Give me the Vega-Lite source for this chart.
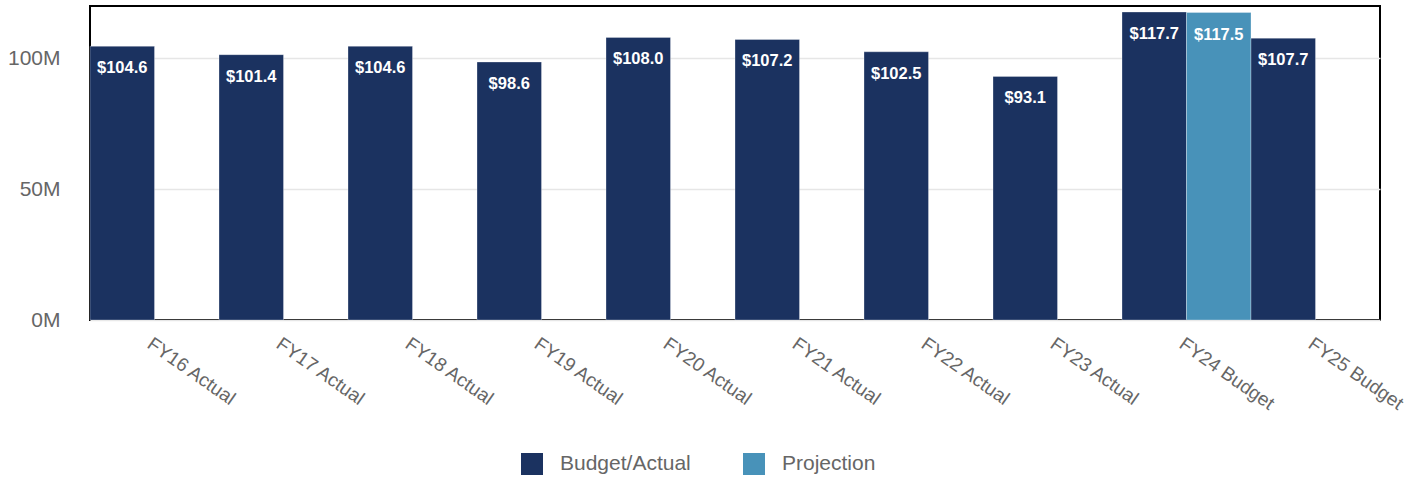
{
  "$schema": "https://vega.github.io/schema/vega-lite/v6.json",
  "width": 1290,
  "height": 314,
  "autosize": {"type": "none"},
  "padding": {"left": 90, "top": 6, "right": 38, "bottom": 159},
  "background": "#ffffff",
  "config": {
    "view": {"stroke": "#000000", "strokeWidth": 2},
    "font": "Liberation Sans"
  },
  "data": {
    "values": [
      {"year": "FY16 Actual", "series": "Budget/Actual", "value": 104.6},
      {"year": "FY17 Actual", "series": "Budget/Actual", "value": 101.4},
      {"year": "FY18 Actual", "series": "Budget/Actual", "value": 104.6},
      {"year": "FY19 Actual", "series": "Budget/Actual", "value": 98.6},
      {"year": "FY20 Actual", "series": "Budget/Actual", "value": 108.0},
      {"year": "FY21 Actual", "series": "Budget/Actual", "value": 107.2},
      {"year": "FY22 Actual", "series": "Budget/Actual", "value": 102.5},
      {"year": "FY23 Actual", "series": "Budget/Actual", "value": 93.1},
      {"year": "FY24 Budget", "series": "Budget/Actual", "value": 117.7},
      {"year": "FY24 Budget", "series": "Projection", "value": 117.5},
      {"year": "FY25 Budget", "series": "Budget/Actual", "value": 107.7}
    ]
  },
  "encoding": {
    "x": {
      "field": "year",
      "type": "nominal",
      "sort": null,
      "scale": {"paddingInner": 0, "paddingOuter": 0},
      "axis": {
        "title": null,
        "labelAngle": 35,
        "labelAlign": "left",
        "labelBaseline": "top",
        "labelFontSize": 19,
        "labelColor": "#666666",
        "labelPadding": 14,
        "labelDx": 4,
        "ticks": false,
        "domain": false,
        "grid": false
      }
    },
    "xOffset": {
      "field": "series",
      "type": "nominal",
      "scale": {"domain": ["Budget/Actual", "Projection"], "paddingInner": 0, "paddingOuter": 0}
    },
    "y": {
      "field": "value",
      "type": "quantitative",
      "scale": {"domain": [0, 120], "nice": false},
      "axis": {
        "title": null,
        "values": [0, 50, 100],
        "labelExpr": "datum.value + 'M'",
        "labelFontSize": 21,
        "labelColor": "#666666",
        "labelPadding": 30,
        "ticks": false,
        "domain": false,
        "gridColor": "#e6e6e6",
        "gridWidth": 1.5
      }
    }
  },
  "layer": [
    {
      "mark": {"type": "bar", "stroke": "#ffffff", "strokeWidth": 0.6, "strokeOpacity": 0.5},
      "encoding": {
        "color": {
          "field": "series",
          "type": "nominal",
          "scale": {"domain": ["Budget/Actual", "Projection"], "range": ["#1b3260", "#4892b9"]},
          "legend": {
            "title": null,
            "orient": "none",
            "direction": "horizontal",
            "legendX": 431,
            "legendY": 447,
            "symbolType": "square",
            "symbolSize": 484,
            "symbolStrokeWidth": 0,
            "symbolOpacity": 1,
            "labelFontSize": 21,
            "labelColor": "#666666",
            "labelOffset": 17,
            "columnPadding": 52
          }
        }
      }
    },
    {
      "mark": {"type": "text", "color": "#ffffff", "fontWeight": "bold", "fontSize": 16.5, "baseline": "middle", "dy": 22},
      "encoding": {
        "text": {"field": "value", "type": "quantitative", "format": "$.1f"}
      }
    }
  ]
}
